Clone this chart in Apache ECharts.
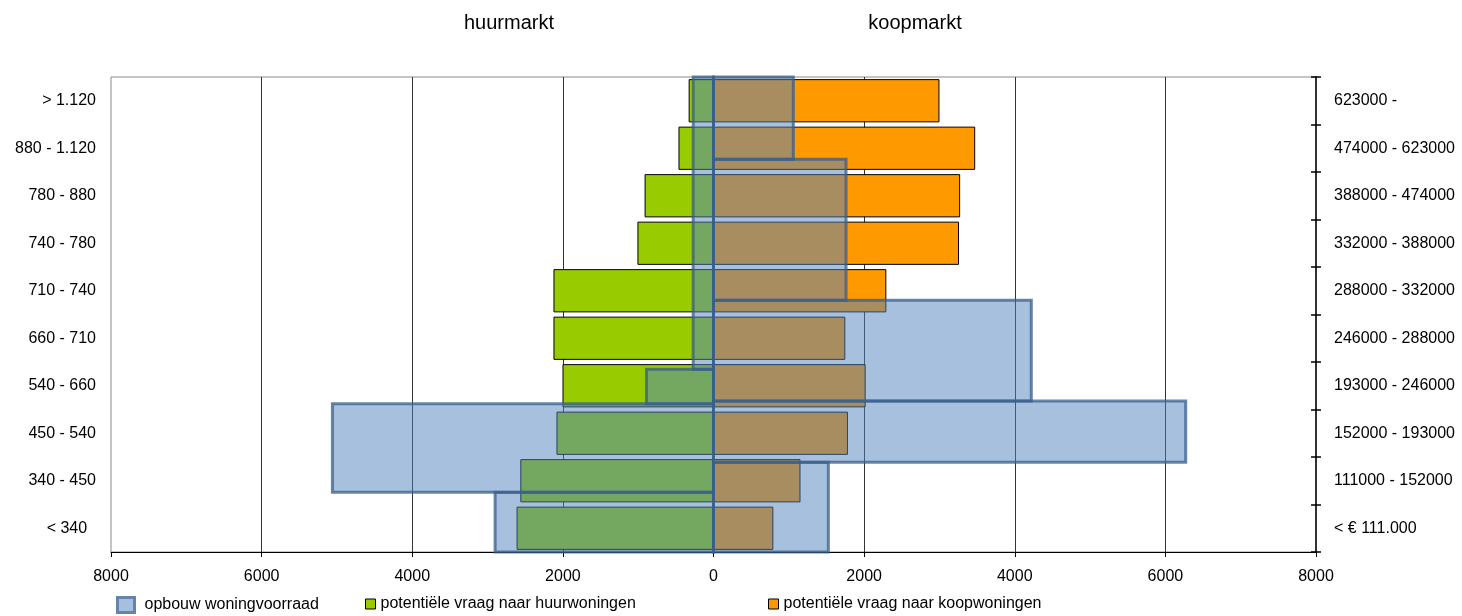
<!DOCTYPE html>
<html>
<head>
<meta charset="utf-8">
<script src="https://cdn.jsdelivr.net/npm/echarts@6/dist/echarts.min.js"></script>
<style>
  html, body { margin: 0; padding: 0; background: #fff; }
  #chart { width: 1462px; height: 616px; }
</style>
</head>
<body>
<div id="chart"></div>
<script>
// rent classes (left axis) and price classes (right axis), bottom to top
const rentClasses = ["< 340  ", "340 - 450", "450 - 540", "540 - 660", "660 - 710", "710 - 740", "740 - 780", "780 - 880", "880 - 1.120", "> 1.120"];
const priceClasses = ["< € 111.000", "111000 - 152000", "152000 - 193000", "193000 - 246000", "246000 - 288000", "288000 - 332000", "332000 - 388000", "388000 - 474000", "474000 - 623000", "623000 -"];

// potential demand
const rentDemand = [2615, 2565, 2085, 2005, 2125, 2125, 1010, 915, 465, 330];
const buyDemand = [795, 1155, 1785, 2020, 1750, 2295, 3260, 3275, 3475, 3000];

// housing stock, as class edges (in class units) and counts
const stockRentEdges = [0, 1.26, 3.12, 3.85, 10];
const stockRentValues = [2900, 5060, 890, 270];
const stockBuyEdges = [0, 1.89, 3.18, 5.3, 8.27, 10];
const stockBuyValues = [1525, 6270, 4220, 1760, 1060];

const xTicks = { min: -8000, max: 8000, step: 2000 };

const FONT = "'Liberation Sans', Arial, sans-serif";
const STOCK = "opbouw woningvoorraad";
const RENT = "potentiële vraag naar huurwoningen";
const BUY = "potentiële vraag naar koopwoningen";

const stockData = [];
stockRentValues.forEach((v, i) => stockData.push([stockRentEdges[i], stockRentEdges[i + 1], -v]));
stockBuyValues.forEach((v, i) => stockData.push([stockBuyEdges[i], stockBuyEdges[i + 1], v]));

const chart = echarts.init(document.getElementById("chart"), null, { renderer: "canvas" });

const labelStyle = { color: "#000", fontSize: 16, fontFamily: FONT };

const option = {
  animation: false,
  backgroundColor: "#fff",
  textStyle: { fontFamily: FONT },
  title: [
    { text: "huurmarkt", left: 509, top: 13, padding: 0, textAlign: "center",
      textStyle: { color: "#000", fontSize: 20, fontWeight: "normal", fontFamily: FONT } },
    { text: "koopmarkt", left: 915, top: 13, padding: 0, textAlign: "center",
      textStyle: { color: "#000", fontSize: 20, fontWeight: "normal", fontFamily: FONT } }
  ],
  legend: [
    { left: 116, top: 596, padding: 0, selectedMode: false, itemWidth: 17, itemHeight: 15,
      textStyle: Object.assign({ padding: [0, 0, 0, 5] }, labelStyle),
      data: [{ name: STOCK, icon: "rect",
        itemStyle: { color: "#a7bfde", borderColor: "#6584ad", borderWidth: 3 } }] },
    { left: 365, top: 596, padding: 0, selectedMode: false, itemWidth: 10, itemHeight: 10,
      textStyle: labelStyle,
      data: [{ name: RENT, icon: "rect", itemStyle: { color: "#99cc00", borderColor: "#000", borderWidth: 1 } }] },
    { left: 768, top: 596, padding: 0, selectedMode: false, itemWidth: 10, itemHeight: 10,
      textStyle: labelStyle,
      data: [{ name: BUY, icon: "rect", itemStyle: { color: "#ff9900", borderColor: "#000", borderWidth: 1 } }] }
  ],
  grid: { left: 111, right: 146, top: 77, bottom: 64, show: true, borderColor: "#8a8a8a", borderWidth: 1 },
  xAxis: {
    type: "value",
    min: xTicks.min,
    max: xTicks.max,
    interval: xTicks.step,
    axisLine: { show: true, lineStyle: { color: "#000", width: 1 } },
    axisTick: { show: true, length: 5, lineStyle: { color: "#000" } },
    axisLabel: Object.assign({ margin: 17, formatter: (v) => String(Math.abs(v)) }, labelStyle),
    splitLine: { show: true, showMinLine: false, showMaxLine: false, lineStyle: { color: "#333", width: 1 } }
  },
  yAxis: [
    {
      type: "category",
      data: rentClasses,
      position: "left",
      axisLine: { show: false },
      axisTick: { show: false },
      axisLabel: Object.assign({ margin: 15, padding: [4, 0, 0, 0] }, labelStyle),
      splitLine: { show: false }
    },
    {
      type: "category",
      data: priceClasses,
      position: "right",
      axisLine: { show: true, lineStyle: { color: "#000", width: 1.5 } },
      axisTick: { show: true, length: 5, lineStyle: { color: "#000", width: 1.5 } },
      axisLabel: Object.assign({ margin: 18, padding: [4, 0, 0, 0] }, labelStyle),
      splitLine: { show: false }
    },
    { type: "value", min: 0, max: 10, show: false },
    {
      type: "category",
      data: priceClasses,
      position: "right",
      axisLine: { show: false },
      axisTick: { show: true, inside: true, length: 5, lineStyle: { color: "#000", width: 1.5 } },
      axisLabel: { show: false },
      splitLine: { show: false }
    }
  ],
  series: [
    {
      name: RENT,
      type: "bar",
      yAxisIndex: 0,
      stack: "demand",
      barCategoryGap: "9%",
      itemStyle: { color: "#99cc00", borderColor: "#000", borderWidth: 1 },
      data: rentDemand.map((v) => -v)
    },
    {
      name: BUY,
      type: "bar",
      yAxisIndex: 0,
      stack: "demand",
      barCategoryGap: "9%",
      itemStyle: { color: "#ff9900", borderColor: "#000", borderWidth: 1 },
      data: buyDemand
    },
    {
      name: STOCK,
      type: "custom",
      yAxisIndex: 2,
      z: 5,
      encode: { x: 2, y: [0, 1] },
      itemStyle: { color: "rgba(79,129,189,0.5)", borderColor: "rgba(56,93,138,0.8)", borderWidth: 3 },
      renderItem: (params, api) => {
        const a = api.coord([0, api.value(0)]);
        const b = api.coord([api.value(2), api.value(1)]);
        return {
          type: "rect",
          shape: {
            x: Math.min(a[0], b[0]),
            y: Math.min(a[1], b[1]),
            width: Math.abs(b[0] - a[0]),
            height: Math.abs(b[1] - a[1])
          },
          style: { fill: "rgba(79,129,189,0.5)", stroke: "rgba(56,93,138,0.75)", lineWidth: 3 }
        };
      },
      data: stockData
    }
  ]
};

chart.setOption(option);
</script>
</body>
</html>
